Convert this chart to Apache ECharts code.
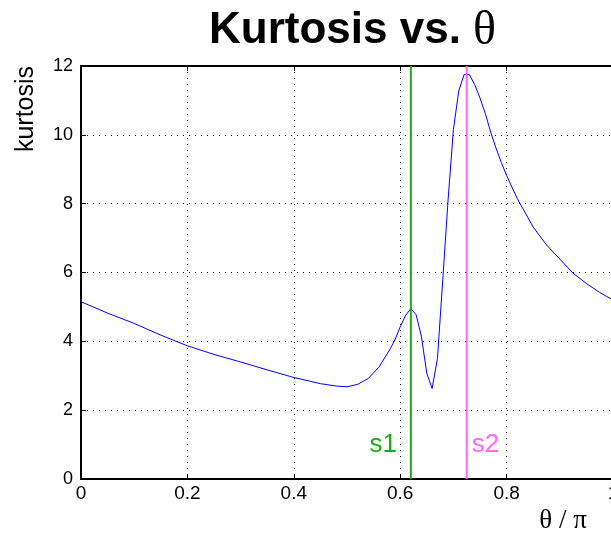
<!DOCTYPE html>
<html>
<head>
<meta charset="utf-8">
<script src="https://cdn.jsdelivr.net/npm/echarts@6/dist/echarts.min.js"></script>
<style>
  html, body { margin: 0; padding: 0; background: #fff; }
  #main { width: 611px; height: 533px; }
</style>
</head>
<body>
<div id="main"></div>
<script>
// theta / pi samples
var thetaVals = [0, 0.05, 0.1, 0.15, 0.2, 0.25, 0.3, 0.35, 0.4, 0.45, 0.48, 0.5, 0.52, 0.54, 0.56, 0.58,
  0.59, 0.6, 0.61, 0.62, 0.63, 0.64, 0.65, 0.66, 0.67, 0.68, 0.69, 0.7, 0.71, 0.72, 0.73, 0.74, 0.75,
  0.76, 0.77, 0.78, 0.79, 0.8, 0.82, 0.85, 0.875, 0.9, 0.925, 0.95, 0.975, 1.0];
var kurtVals = [5.15, 4.82, 4.52, 4.18, 3.87, 3.62, 3.40, 3.17, 2.95, 2.77, 2.70, 2.68, 2.75, 2.92, 3.25, 3.75,
  4.04, 4.42, 4.75, 4.95, 4.77, 4.13, 3.07, 2.63, 3.50, 5.78, 8.11, 10.15, 11.27, 11.75, 11.75, 11.46, 11.07,
  10.62, 10.08, 9.62, 9.20, 8.82, 8.15, 7.32, 6.80, 6.39, 5.98, 5.68, 5.42, 5.2];
// marker lines
var markNames = ['s1', 's2'];
var markPos = [0.62, 0.725];
var markColors = ['#16b016', '#ff66ff'];

var chart = echarts.init(document.getElementById('main'));
var font = 'Liberation Sans, Arial, Helvetica, sans-serif';
var serif = 'Liberation Serif, Times New Roman, serif';

var curve = thetaVals.map(function (t, i) { return [t, kurtVals[i]]; });

var series = [{
  type: 'line',
  data: curve,
  showSymbol: false,
  symbol: 'none',
  lineStyle: { color: '#0000ff', width: 1 },
  z: 3
}];
markPos.forEach(function (p, i) {
  series.push({
    type: 'line',
    data: [[p, 0], [p, 12]],
    symbol: 'none',
    lineStyle: { color: markColors[i], width: 2 },
    z: 4
  });
});

var axisCommon = {
  type: 'value',
  axisLine: { show: true, onZero: false, lineStyle: { color: '#000', width: 2 } },
  axisTick: { show: true, inside: true, length: 5, lineStyle: { color: '#000' } }
};

chart.setOption({
  animation: false,
  backgroundColor: '#fff',
  title: {
    text: '{a|Kurtosis vs. }{b|θ}',
    left: 204,
    top: 2,
    textStyle: {
      rich: {
        a: { fontFamily: font, fontWeight: 'bold', fontSize: 44, color: '#000' },
        b: { fontFamily: serif, fontWeight: 'normal', fontSize: 48, color: '#000' }
      }
    }
  },
  grid: { left: 81, right: -2, top: 66, bottom: 54, containLabel: false, outerBoundsMode: 'none' },
  xAxis: [
    Object.assign({}, axisCommon, {
      min: 0, max: 1, interval: 0.2,
      position: 'bottom',
      axisLabel: { color: '#000', fontFamily: font, fontSize: 19, margin: 5,
        formatter: function (v) { return v === 0 ? '0' : (v === 1 ? '1' : v.toFixed(1)); } },
      splitLine: { show: true, lineStyle: { color: '#000', type: [1, 5], width: 1 } }
    }),
    Object.assign({}, axisCommon, {
      min: 0, max: 1, interval: 0.2,
      position: 'top',
      axisLabel: { show: false },
      splitLine: { show: false }
    })
  ],
  yAxis: [
    Object.assign({}, axisCommon, {
      min: 0, max: 12, interval: 2,
      position: 'left',
      axisLabel: { color: '#000', fontFamily: font, fontSize: 18, margin: 8 },
      splitLine: { show: true, lineStyle: { color: '#000', type: [1, 5], width: 1 } }
    })
  ],
  series: series
});

// texts placed from data coordinates
var g = [];
markPos.forEach(function (p, i) {
  var pt = chart.convertToPixel({ gridIndex: 0 }, [p, 1]);
  g.push({
    type: 'text',
    x: i === 0 ? pt[0] - 14 : pt[0] + 5,
    y: pt[1],
    style: {
      text: markNames[i],
      fill: markColors[i],
      font: '26px ' + font,
      align: i === 0 ? 'right' : 'left',
      verticalAlign: 'middle'
    },
    z: 10
  });
});
g.push({
  type: 'text',
  x: 26, y: 109,
  rotation: Math.PI / 2,
  style: { text: 'kurtosis', fill: '#000', font: '25px ' + font, align: 'center', verticalAlign: 'middle' }
});
g.push({
  type: 'text',
  x: 563, y: 521,
  style: { text: 'θ / π', fill: '#000', font: '27px ' + serif, align: 'center', verticalAlign: 'middle' }
});
chart.setOption({ graphic: g });
</script>
</body>
</html>
